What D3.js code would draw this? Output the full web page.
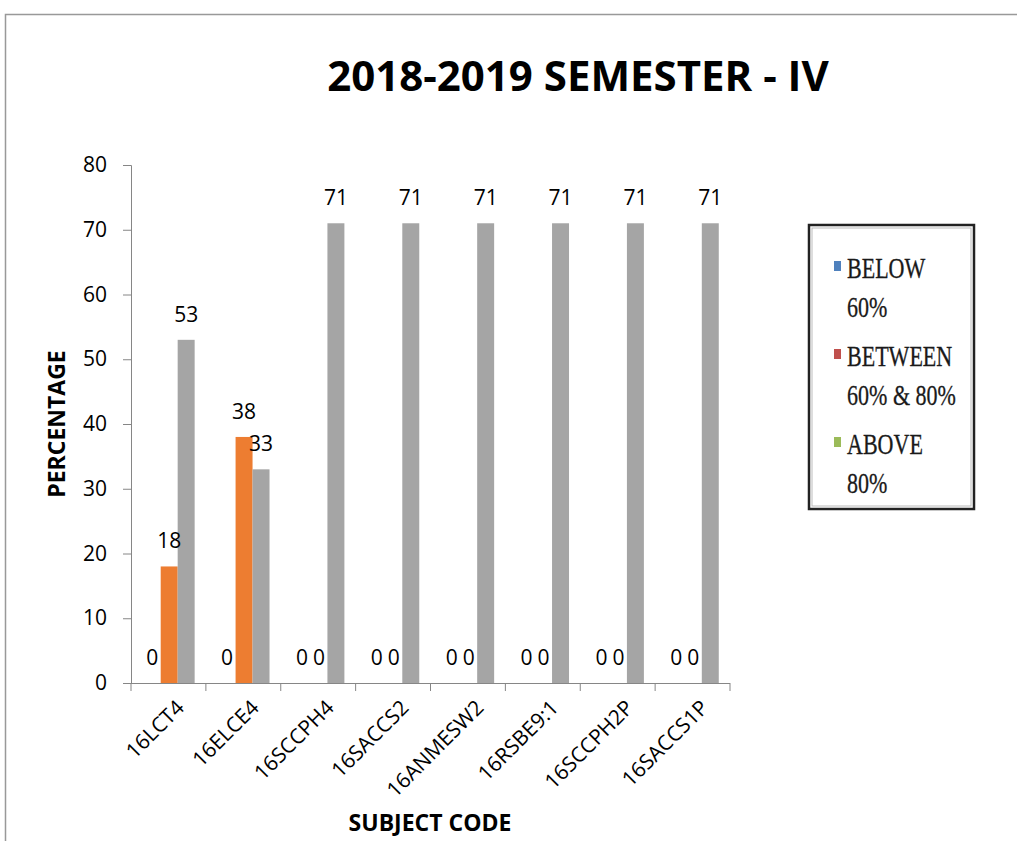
<!DOCTYPE html>
<html lang="en">
<head>
<meta charset="utf-8">
<title>2018-2019 SEMESTER - IV</title>
<script src="https://d3js.org/d3.v7.min.js"></script>
<style>
  body { margin: 0; background: #fff; }
  .num { font-family: "Open Sans", sans-serif; font-size: 21px; fill: #000; }
  .axis-title { font-family: "Open Sans", sans-serif; font-size: 23px; font-weight: bold; }
  .legend text { font-family: "Liberation Serif", "Times New Roman", serif; font-size: 29px; fill: #1a1a1a; stroke: #1a1a1a; stroke-width: 0.3; }
</style>
</head>
<body>
<script>
// chart data
var subjects = ["16LCT4", "16ELCE4", "16SCCPH4", "16SACCS2", "16ANMESW2", "16RSBE9:1", "16SCCPH2P", "16SACCS1P"];
var seriesNames = ["BELOW 60%", "BETWEEN 60% & 80%", "ABOVE 80%"];
var below60 = [0, 0, 0, 0, 0, 0, 0, 0];
var between60and80 = [18, 38, 0, 0, 0, 0, 0, 0];
var above80 = [53, 33, 71, 71, 71, 71, 71, 71];
var yTicks = [0, 10, 20, 30, 40, 50, 60, 70, 80];

var barColors = ["#4472C4", "#ED7D31", "#A5A5A5"];
var legendColors = ["#4F81BD", "#C0504D", "#9BBB59"];
var legendLines = [["BELOW", "60%"], ["BETWEEN", "60% & 80%"], ["ABOVE", "80%"]];

var W = 1017, H = 841;
var plot = { left: 131, right: 730, top: 165, bottom: 683 };

var svg = d3.select("body").append("svg")
    .attr("width", W).attr("height", H);

// chart frame (only top and left edges show)
svg.append("path")
    .attr("d", "M5.5," + H + "V14.5H" + W)
    .attr("fill", "none").attr("stroke", "#999").attr("stroke-width", 1.5);

svg.append("text")
    .attr("x", 578).attr("y", 91)
    .attr("text-anchor", "middle")
    .style("font-family", "'Open Sans', sans-serif")
    .style("font-weight", "bold")
    .style("font-size", "42px")
    .text("2018-2019 SEMESTER - IV");

var x0 = d3.scaleBand().domain(subjects).range([plot.left, plot.right]).padding(0);
var x1 = d3.scaleBand().domain(d3.range(3))
    .range([x0.bandwidth() * 0.17, x0.bandwidth() * 0.85]).padding(0);
var y = d3.scaleLinear().domain([0, 80]).range([plot.bottom, plot.top]);

var data = subjects.map(function (s, i) {
  return { subject: s, values: [below60[i], between60and80[i], above80[i]] };
});

// y axis
var yAxis = svg.append("g")
    .attr("transform", "translate(" + plot.left + ",0)")
    .call(d3.axisLeft(y).tickValues(yTicks).tickSize(8).tickPadding(16));
yAxis.select(".domain").attr("stroke", "#868686");
yAxis.selectAll(".tick line").attr("stroke", "#868686");
yAxis.selectAll("text").attr("class", "num").attr("font-size", null).attr("font-family", null);

// x axis: line plus ticks at category boundaries
var xAxis = svg.append("g")
    .attr("transform", "translate(0," + plot.bottom + ")")
    .call(d3.axisBottom(x0).tickSize(0).tickFormat(""));
xAxis.select(".domain").attr("stroke", "#868686").attr("d", "M" + (plot.left - 8) + ",0.5H" + plot.right);
xAxis.selectAll(".tick line").remove();
var bounds = subjects.map(function (s) { return x0(s); }).concat([plot.right]);
xAxis.selectAll(".bound").data(bounds).enter().append("line")
    .attr("x1", function (d) { return d; }).attr("x2", function (d) { return d; })
    .attr("y1", 0).attr("y2", 8).attr("stroke", "#868686");

svg.append("g").selectAll("text").data(subjects).enter().append("text")
    .attr("class", "num")
    .attr("text-anchor", "end")
    .attr("transform", function (d) {
      return "translate(" + (x0(d) + x0.bandwidth() / 2 + 17) + "," + (plot.bottom + 26) + ") rotate(-45)";
    })
    .text(function (d) { return d; });

// bars
var groups = svg.append("g").selectAll("g").data(data).enter().append("g")
    .attr("transform", function (d) { return "translate(" + x0(d.subject) + ",0)"; });

groups.selectAll("rect").data(function (d) { return d.values; }).enter().append("rect")
    .attr("x", function (d, i) { return x1(i); })
    .attr("y", function (d) { return y(d); })
    .attr("width", x1.bandwidth())
    .attr("height", function (d) { return plot.bottom - y(d); })
    .attr("fill", function (d, i) { return barColors[i]; });

// data labels
groups.selectAll("text").data(function (d) { return d.values; }).enter().append("text")
    .attr("class", "num")
    .attr("text-anchor", "middle")
    .attr("x", function (d, i) { return x1(i) + x1.bandwidth() / 2; })
    .attr("y", function (d) { return y(d) - 18; })
    .text(function (d) { return d; });

// axis titles
svg.append("text").attr("class", "axis-title")
    .attr("transform", "translate(65,424) rotate(-90)")
    .attr("text-anchor", "middle")
    .text("PERCENTAGE");
svg.append("text").attr("class", "axis-title")
    .attr("x", 430).attr("y", 831)
    .attr("text-anchor", "middle")
    .text("SUBJECT CODE");

// legend
var legend = svg.append("g").attr("class", "legend");
legend.append("rect")
    .attr("x", 809).attr("y", 225).attr("width", 165).attr("height", 284)
    .attr("fill", "#fff").attr("stroke", "#222").attr("stroke-width", 2.5);
legend.append("rect")
    .attr("x", 812).attr("y", 228).attr("width", 159).attr("height", 278)
    .attr("fill", "none").attr("stroke", "#bbb").attr("stroke-width", 1);

var items = legend.selectAll(".item").data(seriesNames).enter().append("g")
    .attr("class", "item")
    .attr("transform", function (d, i) { return "translate(0," + (i * 88) + ")"; });
items.append("rect")
    .attr("x", 834).attr("y", 261).attr("width", 7).attr("height", 10)
    .attr("fill", function (d, i) { return legendColors[i]; });
items.each(function (d, i) {
  var g = d3.select(this);
  legendLines[i].forEach(function (line, k) {
    g.append("text")
        .attr("transform", "translate(847," + (278 + k * 39) + ") scale(0.76,1)")
        .text(line);
  });
});
</script>
</body>
</html>
